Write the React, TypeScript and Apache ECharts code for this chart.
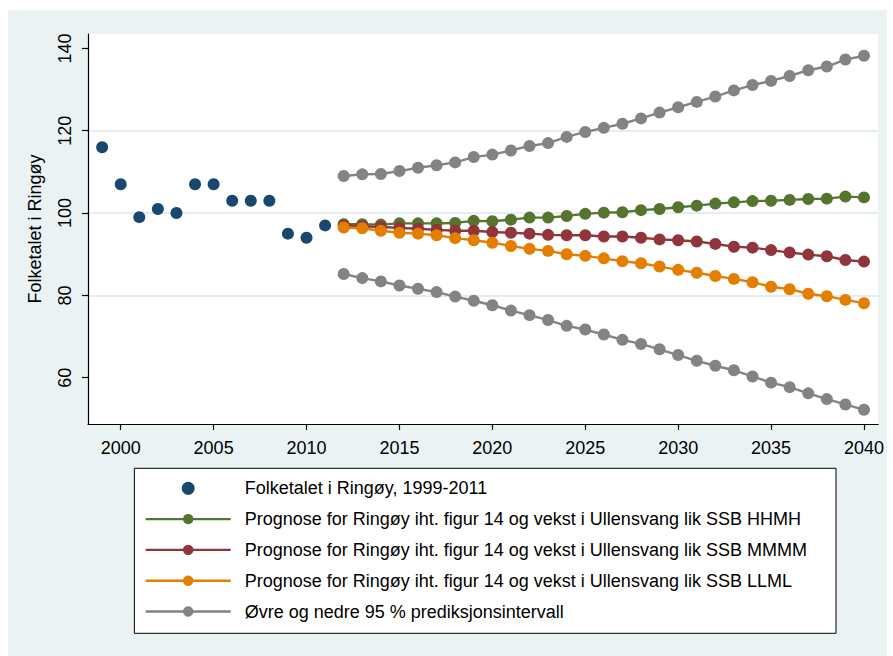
import React, { useEffect, useRef } from "react";
import * as echarts from "echarts";

const histYears = [1999, 2000, 2001, 2002, 2003, 2004, 2005, 2006, 2007, 2008, 2009, 2010, 2011];
const histValues = [116, 107, 99, 101, 100, 107, 107, 103, 103, 103, 95, 94, 97];

const progYears = [
  2012, 2013, 2014, 2015, 2016, 2017, 2018, 2019, 2020, 2021, 2022, 2023, 2024, 2025, 2026,
  2027, 2028, 2029, 2030, 2031, 2032, 2033, 2034, 2035, 2036, 2037, 2038, 2039, 2040,
];
const hhmh = [
  97.3, 97.3, 97.2, 97.5, 97.5, 97.5, 97.6, 98.1, 98.0, 98.4, 98.9, 98.9, 99.3, 99.8, 100.1,
  100.2, 100.7, 101.0, 101.4, 101.8, 102.3, 102.6, 102.9, 103.0, 103.2, 103.4, 103.5, 104.0, 103.8,
];
const mmmm = [
  97.0, 96.8, 96.6, 96.4, 96.2, 95.9, 95.7, 95.7, 95.4, 95.2, 95.0, 94.7, 94.6, 94.6, 94.3,
  94.3, 94.0, 93.6, 93.4, 93.1, 92.5, 91.8, 91.6, 91.0, 90.4, 89.9, 89.5, 88.6, 88.2,
];
const llml = [
  96.5, 96.3, 95.7, 95.2, 95.0, 94.6, 93.9, 93.4, 92.8, 92.0, 91.3, 90.8, 90.0, 89.6, 89.0,
  88.3, 87.8, 87.0, 86.2, 85.5, 84.7, 84.0, 83.2, 82.1, 81.5, 80.4, 79.8, 78.9, 78.1,
];
const upper = [
  109.0, 109.4, 109.5, 110.2, 111.0, 111.6, 112.3, 113.6, 114.2, 115.2, 116.3, 117.0, 118.5, 119.7, 120.7,
  121.7, 123.0, 124.4, 125.7, 127.0, 128.3, 129.8, 131.1, 132.1, 133.3, 134.7, 135.6, 137.3, 138.2,
];
const lower = [
  85.2, 84.2, 83.4, 82.4, 81.6, 80.8, 79.7, 78.7, 77.6, 76.3, 75.2, 74.0, 72.6, 71.7, 70.5,
  69.2, 68.2, 66.9, 65.5, 64.1, 62.9, 61.8, 60.3, 58.8, 57.7, 56.2, 54.8, 53.5, 52.2,
];

const xTicks = [2000, 2005, 2010, 2015, 2020, 2025, 2030, 2035, 2040];
const yTicks = [60, 80, 100, 120, 140];

const legendNames = [
  "Folketalet i Ringøy, 1999-2011",
  "Prognose for Ringøy iht. figur 14 og vekst i Ullensvang lik SSB HHMH",
  "Prognose for Ringøy iht. figur 14 og vekst i Ullensvang lik SSB MMMM",
  "Prognose for Ringøy iht. figur 14 og vekst i Ullensvang lik SSB LLML",
  "Øvre og nedre 95 % prediksjonsintervall",
];
const yTitle = "Folketalet i Ringøy";

const FONT = "'Liberation Sans', Arial, sans-serif";
const NAVY = "#1a476f";
const GREEN = "#55752f";
const MAROON = "#90353b";
const ORANGE = "#e37e00";
const GRAY = "#838383";
const BG = "#eaf2f3";

function pairs(xs: number[], ys: number[]) {
  return xs.map((x, i) => [x, ys[i]]);
}

function lineSeries(name: string, ys: number[], color: string) {
  return {
    name,
    type: "line",
    data: pairs(progYears, ys),
    symbol: "circle",
    symbolSize: 12,
    showSymbol: true,
    showAllSymbol: true,
    lineStyle: { width: 2.4, color },
    itemStyle: { color, opacity: 1 },
    emphasis: { disabled: true },
  };
}

export default function App() {
  const ref = useRef<HTMLDivElement>(null);
  useEffect(() => {
    if (!ref.current) return;
    const chart = echarts.init(ref.current, undefined, { renderer: "svg" });
    const axisLine = { show: true, onZero: false, lineStyle: { color: "#000", width: 1.2 } };
    const option: any = {
      animation: false,
      backgroundColor: BG,
      textStyle: { fontFamily: FONT },
      grid: {
        left: 80,
        right: 4,
        top: 24,
        bottom: 232,
        show: true,
        backgroundColor: "#ffffff",
        borderWidth: 0,
      },
      xAxis: {
        type: "value",
        min: 1998.24,
        max: 2040.76,
        minInterval: 5,
        maxInterval: 5,
        axisLine,
        axisTick: { show: true, length: 6, customValues: xTicks, lineStyle: { color: "#000", width: 1.2 } },
        axisLabel: {
          customValues: xTicks,
          fontSize: 18,
          color: "#000",
          margin: 15,
          fontFamily: FONT,
          formatter: (v: number) => String(v),
        },
        splitLine: { show: false },
      },
      yAxis: {
        type: "value",
        min: 48.75,
        max: 143.5,
        minInterval: 20,
        maxInterval: 20,
        name: yTitle,
        nameLocation: "middle",
        nameGap: 44,
        nameTextStyle: { fontSize: 18, color: "#000", fontFamily: FONT },
        axisLine,
        axisTick: { show: true, length: 6, customValues: yTicks, lineStyle: { color: "#000", width: 1.2 } },
        axisLabel: {
          customValues: yTicks,
          rotate: 90,
          fontSize: 18,
          color: "#000",
          margin: 14,
          fontFamily: FONT,
        },
        splitLine: {
          show: true,
          showMinLine: false,
          showMaxLine: false,
          lineStyle: { color: "#e4eef0", width: 1.8 },
        },
      },
      legend: {
        orient: "vertical",
        left: 136.5,
        top: 469.3,
        padding: 0,
        itemWidth: 85,
        itemHeight: 13,
        itemGap: 12.8,
        selectedMode: false,
        lineStyle: { width: 2.4 },
        itemStyle: { opacity: 1 },
        textStyle: { fontSize: 18, color: "#000", lineHeight: 18, fontFamily: FONT, padding: [0, 0, 0, 9] },
        data: legendNames,
      },
      graphic: [
        {
          type: "rect",
          z: 0,
          shape: { x: 126.4, y: 458.3, width: 701.6, height: 165 },
          style: { fill: "#ffffff", stroke: "#000", lineWidth: 1 },
        },
      ],
      series: [
        {
          name: legendNames[0],
          type: "scatter",
          data: pairs(histYears, histValues),
          symbol: "circle",
          symbolSize: 12,
          itemStyle: { color: NAVY, opacity: 1 },
          emphasis: { disabled: true },
        },
        lineSeries(legendNames[1], hhmh, GREEN),
        lineSeries(legendNames[2], mmmm, MAROON),
        lineSeries(legendNames[3], llml, ORANGE),
        lineSeries(legendNames[4], upper, GRAY),
        lineSeries(legendNames[4], lower, GRAY),
      ],
    };
    chart.setOption(option);
    return () => chart.dispose();
  }, []);
  return (
    <div
      ref={ref}
      style={{ position: "absolute", left: 8, top: 10, width: 879, height: 646 }}
    />
  );
}
